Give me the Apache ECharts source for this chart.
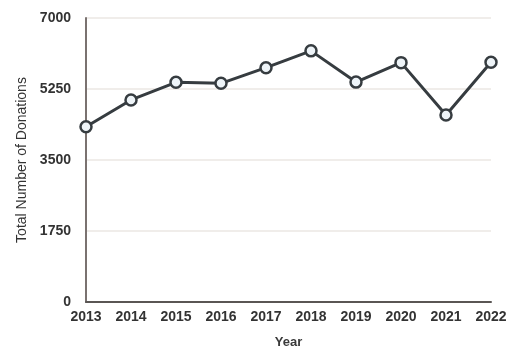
<!DOCTYPE html>
<html><head><meta charset="utf-8">
<script src="https://cdn.jsdelivr.net/npm/echarts@6/dist/echarts.min.js"></script>
<style>html,body{margin:0;padding:0;background:#fff}#c{width:507px;height:350px}</style>
</head><body><div id="c"></div>
<script>
var years = ['2013','2014','2015','2016','2017','2018','2019','2020','2021','2022'];
var donations = [4320, 4980, 5415, 5390, 5775, 6190, 5420, 5900, 4610, 5910];
var yTicks = [0, 1750, 3500, 5250, 7000];

var chart = echarts.init(document.getElementById('c'));
chart.setOption({
  animation: false,
  grid: {left: 86, right: 16, top: 18, bottom: 48, containLabel: false, outerBoundsMode: 'none'},
  xAxis: {
    type: 'category', data: years, boundaryGap: false,
    name: 'Year', nameLocation: 'middle', nameGap: 34,
    nameTextStyle: {fontFamily: 'Liberation Sans', fontSize: 13, color: '#3a3a3a', fontWeight: 'bold'},
    axisLine: {lineStyle: {color: '#5a5654', width: 2}},
    axisTick: {show: false},
    axisLabel: {fontFamily: 'Liberation Sans', fontSize: 14, color: '#333', margin: 8, fontWeight: 'bold'}
  },
  yAxis: {
    type: 'value', min: yTicks[0], max: yTicks[yTicks.length-1], interval: 1750,
    name: 'Total Number of Donations', nameLocation: 'middle', nameGap: 57, nameRotate: 90,
    nameTextStyle: {fontFamily: 'Liberation Sans', fontSize: 14, color: '#333'},
    axisLine: {show: true, lineStyle: {color: '#7a7270', width: 2}},
    axisTick: {show: false},
    axisLabel: {fontFamily: 'Liberation Sans', fontSize: 14, color: '#333', margin: 15, fontWeight: 'bold',
      formatter: function (v) { return String(v); }},
    splitLine: {lineStyle: {color: '#ebe7e3', width: 1.5}}
  },
  series: [{
    type: 'line', data: donations,
    symbol: 'circle', symbolSize: 11,
    lineStyle: {color: '#363c40', width: 3},
    itemStyle: {color: '#eef4f8', borderColor: '#363c40', borderWidth: 2.5}
  }]
});
</script></body></html>
